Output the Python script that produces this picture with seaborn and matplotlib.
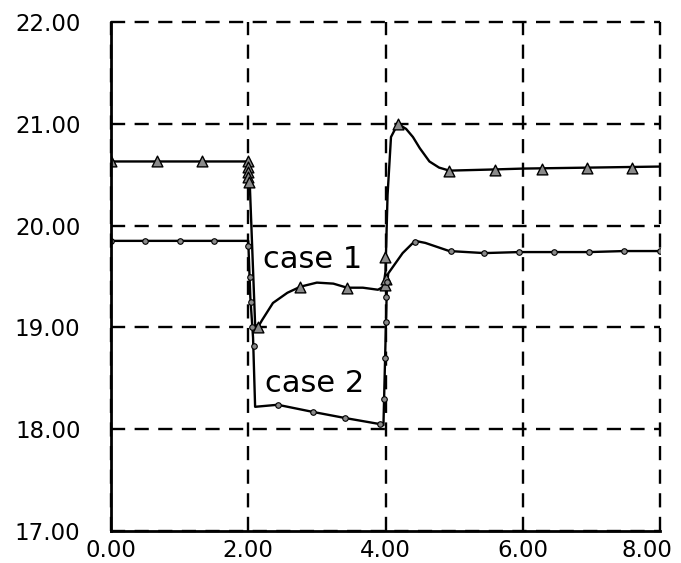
import numpy as np
import pandas as pd
import matplotlib
matplotlib.use("Agg")
import matplotlib.pyplot as plt
import matplotlib.transforms as mtransforms
from matplotlib.ticker import MultipleLocator, FormatStrFormatter
import seaborn as sns

# ---- data ----
case1_x = [0.0, 2.0, 2.02, 2.10, 2.14, 2.20, 2.36, 2.57, 2.76, 3.00, 3.24, 3.44, 3.67, 3.89, 3.97,
           4.00, 4.03, 4.08, 4.18, 4.30, 4.40, 4.50, 4.64, 4.78, 4.93, 5.50, 6.00, 7.00, 8.00]
case1_y = [20.63, 20.63, 20.45, 19.03, 19.00, 19.07, 19.24, 19.34, 19.40, 19.44, 19.43, 19.39, 19.39, 19.37, 19.40,
           19.55, 20.30, 20.87, 21.00, 20.95, 20.87, 20.76, 20.63, 20.57, 20.54, 20.55, 20.56, 20.57, 20.58]

case1_mx = [0.0, 0.67, 1.33, 2.0, 2.0, 2.0, 2.0, 2.01, 2.14, 2.76, 3.44, 3.99, 4.0, 3.99, 4.18,
            4.93, 5.59, 6.28, 6.93, 7.59]
case1_my = [20.63, 20.63, 20.63, 20.63, 20.58, 20.53, 20.48, 20.43, 19.00, 19.40, 19.39, 19.42, 19.48, 19.69, 21.00,
            20.54, 20.55, 20.56, 20.57, 20.57]

case2_x = [0.0, 2.0, 2.03, 2.07, 2.10, 2.43, 2.94, 3.41, 3.92, 3.97, 4.02, 4.04, 4.25, 4.43, 4.58,
           4.93, 5.44, 5.95, 6.46, 6.97, 7.48, 8.00]
case2_y = [19.85, 19.85, 19.30, 18.90, 18.22, 18.24, 18.17, 18.11, 18.05, 18.04, 19.40, 19.53, 19.73, 19.85, 19.83,
           19.75, 19.73, 19.74, 19.74, 19.74, 19.75, 19.75]

case2_mx = [0.0, 0.5, 1.0, 1.5, 2.0, 2.02, 2.04, 2.06, 2.08, 2.43, 2.94, 3.41, 3.92,
            3.98, 3.99, 4.0, 4.01, 4.02, 4.43, 4.96, 5.44, 5.95, 6.46, 6.97, 7.48, 8.0]
case2_my = [19.85, 19.85, 19.85, 19.85, 19.80, 19.50, 19.25, 19.00, 18.82, 18.24, 18.17, 18.11, 18.05,
            18.30, 18.70, 19.05, 19.30, 19.45, 19.84, 19.75, 19.73, 19.74, 19.74, 19.74, 19.75, 19.75]

labels = ["case 1", "case 2"]
label_x = [2.22, 2.24]
label_y = [19.58, 18.37]

x_ticks = [0, 2, 4, 6, 8]
y_ticks = [17, 18, 19, 20, 21, 22]

# ---- plot ----
sns.set_theme(style="white")
plt.rcParams["font.family"] = ["DejaVu Sans"]

fig = plt.figure(figsize=(6.81, 5.63), dpi=100)
ax = fig.add_axes([111 / 681, 1 - 531 / 563, 549 / 681, 509 / 563])

df1 = pd.DataFrame({"x": case1_x, "y": case1_y})
df2 = pd.DataFrame({"x": case2_x, "y": case2_y})
m1 = pd.DataFrame({"x": case1_mx, "y": case1_my})
m2 = pd.DataFrame({"x": case2_mx, "y": case2_my})

sns.lineplot(data=df1, x="x", y="y", sort=False, estimator=None, color="black", lw=1.7, ax=ax, zorder=3)
sns.lineplot(data=df2, x="x", y="y", sort=False, estimator=None, color="black", lw=1.7, ax=ax, zorder=3)
sns.scatterplot(data=m1, x="x", y="y", marker="^", s=60, color="#8a8a8a", edgecolor="black",
                linewidth=1.0, ax=ax, zorder=4)
sns.scatterplot(data=m2, x="x", y="y", marker="o", s=16, color="#8a8a8a", edgecolor="black",
                linewidth=0.8, ax=ax, zorder=4)

for t, tx, ty in zip(labels, label_x, label_y):
    ax.text(tx, ty, t, fontsize=22, ha="left", va="baseline", color="black", zorder=5)

ax.set_xlim(0, 8)
ax.set_ylim(17, 22)
ax.set_xticks(x_ticks)
ax.set_yticks(y_ticks)
ax.xaxis.set_major_formatter(FormatStrFormatter("%.2f"))
ax.yaxis.set_major_formatter(FormatStrFormatter("%.2f"))
ax.xaxis.set_minor_locator(MultipleLocator(0.2))
ax.yaxis.set_minor_locator(MultipleLocator(0.1))
ax.set_xlabel("")
ax.set_ylabel("")

ax.tick_params(axis="both", which="major", direction="inout", length=12, width=1.5,
               colors="black", labelsize=16.5)
ax.tick_params(axis="both", which="minor", direction="out", length=7, width=1.3, colors="black")
ax.tick_params(axis="x", which="major", pad=0)
ax.tick_params(axis="y", which="major", pad=16)

ax.grid(True, which="major", color="black", linestyle=(0, (6, 4)), linewidth=1.7)
for gl in ax.get_xgridlines() + ax.get_ygridlines():
    gl.set_clip_on(False)

for side in ["top", "right"]:
    ax.spines[side].set_visible(False)
for side in ["left", "bottom"]:
    ax.spines[side].set_color("black")
    ax.spines[side].set_linewidth(2.0)
    ax.spines[side].set_zorder(5)

# keep the last x tick label inside the figure (the reference shows it at the right edge)
last_label = ax.get_xticklabels()[-1]
shift = mtransforms.ScaledTranslation(-13 / 100, 0, fig.dpi_scale_trans)
last_label.set_transform(last_label.get_transform() + shift)

fig.savefig("out.png", dpi=100, facecolor="white")
